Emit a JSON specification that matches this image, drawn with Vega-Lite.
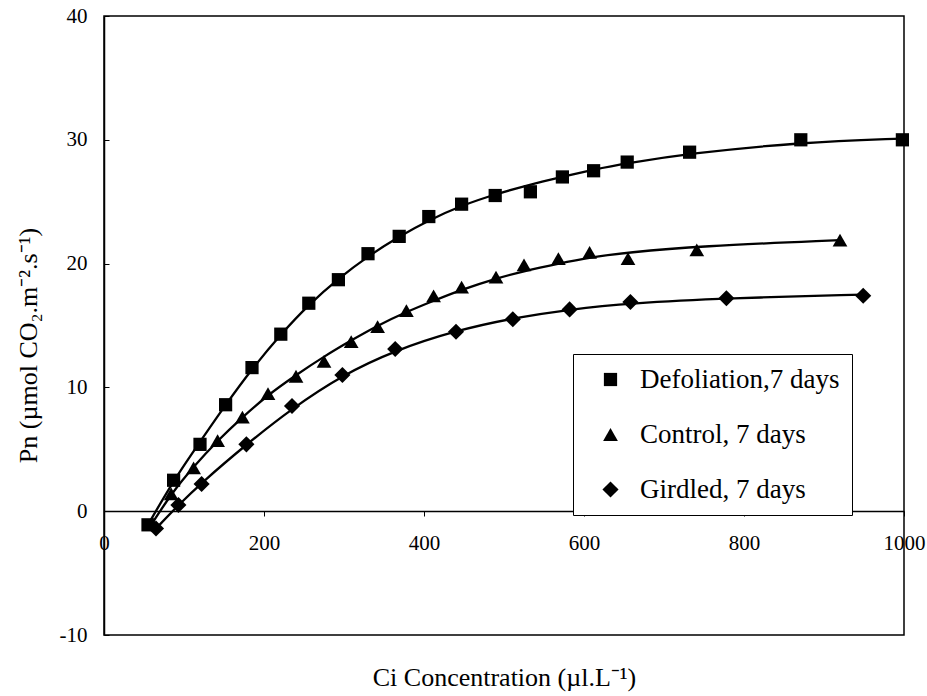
{
  "$schema": "https://vega.github.io/schema/vega-lite/v6.json",
  "width": 800,
  "height": 619,
  "autosize": "none",
  "padding": {"left": 104, "top": 16, "right": 23, "bottom": 61},
  "background": "white",
  "config": {
    "font": "Liberation Serif",
    "view": {"stroke": "black", "strokeWidth": 1.5},
    "axis": {
      "grid": false,
      "domainColor": "black",
      "domainWidth": 1.5,
      "tickColor": "black",
      "labelColor": "black",
      "titleColor": "black",
      "labelFont": "Liberation Serif",
      "titleFont": "Liberation Serif",
      "labelFontSize": 21,
      "titleFontSize": 26,
      "titleFontWeight": "normal"
    }
  },
  "datasets": {
    "points": [
      {"treatment": "Defoliation,7 days", "ci": 55, "pn": -1.1},
      {"treatment": "Defoliation,7 days", "ci": 87, "pn": 2.5},
      {"treatment": "Defoliation,7 days", "ci": 120, "pn": 5.4},
      {"treatment": "Defoliation,7 days", "ci": 152, "pn": 8.6},
      {"treatment": "Defoliation,7 days", "ci": 185, "pn": 11.6},
      {"treatment": "Defoliation,7 days", "ci": 221, "pn": 14.3},
      {"treatment": "Defoliation,7 days", "ci": 256, "pn": 16.8},
      {"treatment": "Defoliation,7 days", "ci": 293, "pn": 18.7},
      {"treatment": "Defoliation,7 days", "ci": 330, "pn": 20.8},
      {"treatment": "Defoliation,7 days", "ci": 369, "pn": 22.2},
      {"treatment": "Defoliation,7 days", "ci": 406, "pn": 23.8},
      {"treatment": "Defoliation,7 days", "ci": 447, "pn": 24.8},
      {"treatment": "Defoliation,7 days", "ci": 489, "pn": 25.5},
      {"treatment": "Defoliation,7 days", "ci": 533, "pn": 25.8},
      {"treatment": "Defoliation,7 days", "ci": 573, "pn": 27.0},
      {"treatment": "Defoliation,7 days", "ci": 612, "pn": 27.5},
      {"treatment": "Defoliation,7 days", "ci": 654, "pn": 28.2},
      {"treatment": "Defoliation,7 days", "ci": 732, "pn": 29.0},
      {"treatment": "Defoliation,7 days", "ci": 871, "pn": 30.0},
      {"treatment": "Defoliation,7 days", "ci": 998, "pn": 30.0},
      {"treatment": "Control, 7 days", "ci": 60, "pn": -1.0},
      {"treatment": "Control, 7 days", "ci": 84, "pn": 1.4},
      {"treatment": "Control, 7 days", "ci": 112, "pn": 3.5},
      {"treatment": "Control, 7 days", "ci": 142, "pn": 5.7},
      {"treatment": "Control, 7 days", "ci": 173, "pn": 7.6},
      {"treatment": "Control, 7 days", "ci": 205, "pn": 9.5},
      {"treatment": "Control, 7 days", "ci": 240, "pn": 10.9},
      {"treatment": "Control, 7 days", "ci": 275, "pn": 12.1},
      {"treatment": "Control, 7 days", "ci": 309, "pn": 13.7},
      {"treatment": "Control, 7 days", "ci": 342, "pn": 14.9},
      {"treatment": "Control, 7 days", "ci": 378, "pn": 16.2},
      {"treatment": "Control, 7 days", "ci": 412, "pn": 17.4},
      {"treatment": "Control, 7 days", "ci": 447, "pn": 18.1},
      {"treatment": "Control, 7 days", "ci": 490, "pn": 18.9},
      {"treatment": "Control, 7 days", "ci": 525, "pn": 19.9},
      {"treatment": "Control, 7 days", "ci": 568, "pn": 20.4},
      {"treatment": "Control, 7 days", "ci": 607, "pn": 20.9},
      {"treatment": "Control, 7 days", "ci": 655, "pn": 20.4},
      {"treatment": "Control, 7 days", "ci": 741, "pn": 21.1},
      {"treatment": "Control, 7 days", "ci": 920, "pn": 21.9},
      {"treatment": "Girdled, 7 days", "ci": 65, "pn": -1.4},
      {"treatment": "Girdled, 7 days", "ci": 93, "pn": 0.5},
      {"treatment": "Girdled, 7 days", "ci": 122, "pn": 2.2},
      {"treatment": "Girdled, 7 days", "ci": 178, "pn": 5.4},
      {"treatment": "Girdled, 7 days", "ci": 235, "pn": 8.5},
      {"treatment": "Girdled, 7 days", "ci": 298, "pn": 11.0},
      {"treatment": "Girdled, 7 days", "ci": 364, "pn": 13.1},
      {"treatment": "Girdled, 7 days", "ci": 440, "pn": 14.5},
      {"treatment": "Girdled, 7 days", "ci": 511, "pn": 15.5},
      {"treatment": "Girdled, 7 days", "ci": 582, "pn": 16.3},
      {"treatment": "Girdled, 7 days", "ci": 658, "pn": 16.9},
      {"treatment": "Girdled, 7 days", "ci": 778, "pn": 17.2},
      {"treatment": "Girdled, 7 days", "ci": 949, "pn": 17.4}
    ],
    "curves": [
      {"treatment": "Defoliation,7 days", "ci": 55, "pn": -1.1},
      {"treatment": "Defoliation,7 days", "ci": 87, "pn": 2.5},
      {"treatment": "Defoliation,7 days", "ci": 120, "pn": 5.6},
      {"treatment": "Defoliation,7 days", "ci": 152, "pn": 8.6},
      {"treatment": "Defoliation,7 days", "ci": 185, "pn": 11.5},
      {"treatment": "Defoliation,7 days", "ci": 221, "pn": 14.3},
      {"treatment": "Defoliation,7 days", "ci": 256, "pn": 16.7},
      {"treatment": "Defoliation,7 days", "ci": 293, "pn": 18.8},
      {"treatment": "Defoliation,7 days", "ci": 330, "pn": 20.6},
      {"treatment": "Defoliation,7 days", "ci": 369, "pn": 22.2},
      {"treatment": "Defoliation,7 days", "ci": 406, "pn": 23.5},
      {"treatment": "Defoliation,7 days", "ci": 447, "pn": 24.7},
      {"treatment": "Defoliation,7 days", "ci": 489, "pn": 25.6},
      {"treatment": "Defoliation,7 days", "ci": 533, "pn": 26.4},
      {"treatment": "Defoliation,7 days", "ci": 573, "pn": 27.0},
      {"treatment": "Defoliation,7 days", "ci": 612, "pn": 27.6},
      {"treatment": "Defoliation,7 days", "ci": 654, "pn": 28.1},
      {"treatment": "Defoliation,7 days", "ci": 732, "pn": 28.9},
      {"treatment": "Defoliation,7 days", "ci": 871, "pn": 29.8},
      {"treatment": "Defoliation,7 days", "ci": 998, "pn": 30.1},
      {"treatment": "Control, 7 days", "ci": 60, "pn": -1.0},
      {"treatment": "Control, 7 days", "ci": 84, "pn": 1.4},
      {"treatment": "Control, 7 days", "ci": 112, "pn": 3.6},
      {"treatment": "Control, 7 days", "ci": 142, "pn": 5.7},
      {"treatment": "Control, 7 days", "ci": 173, "pn": 7.6},
      {"treatment": "Control, 7 days", "ci": 205, "pn": 9.4},
      {"treatment": "Control, 7 days", "ci": 240, "pn": 11.0},
      {"treatment": "Control, 7 days", "ci": 275, "pn": 12.5},
      {"treatment": "Control, 7 days", "ci": 309, "pn": 13.8},
      {"treatment": "Control, 7 days", "ci": 342, "pn": 15.0},
      {"treatment": "Control, 7 days", "ci": 378, "pn": 16.1},
      {"treatment": "Control, 7 days", "ci": 412, "pn": 17.0},
      {"treatment": "Control, 7 days", "ci": 447, "pn": 17.9},
      {"treatment": "Control, 7 days", "ci": 490, "pn": 18.8},
      {"treatment": "Control, 7 days", "ci": 525, "pn": 19.4},
      {"treatment": "Control, 7 days", "ci": 568, "pn": 20.0},
      {"treatment": "Control, 7 days", "ci": 607, "pn": 20.5},
      {"treatment": "Control, 7 days", "ci": 655, "pn": 20.9},
      {"treatment": "Control, 7 days", "ci": 741, "pn": 21.4},
      {"treatment": "Control, 7 days", "ci": 920, "pn": 21.9},
      {"treatment": "Girdled, 7 days", "ci": 65, "pn": -1.4},
      {"treatment": "Girdled, 7 days", "ci": 93, "pn": 0.5},
      {"treatment": "Girdled, 7 days", "ci": 122, "pn": 2.3},
      {"treatment": "Girdled, 7 days", "ci": 178, "pn": 5.4},
      {"treatment": "Girdled, 7 days", "ci": 235, "pn": 8.3},
      {"treatment": "Girdled, 7 days", "ci": 298, "pn": 11.0},
      {"treatment": "Girdled, 7 days", "ci": 364, "pn": 13.0},
      {"treatment": "Girdled, 7 days", "ci": 440, "pn": 14.6},
      {"treatment": "Girdled, 7 days", "ci": 511, "pn": 15.6},
      {"treatment": "Girdled, 7 days", "ci": 582, "pn": 16.3},
      {"treatment": "Girdled, 7 days", "ci": 658, "pn": 16.8},
      {"treatment": "Girdled, 7 days", "ci": 778, "pn": 17.2},
      {"treatment": "Girdled, 7 days", "ci": 949, "pn": 17.5}
    ]
  },
  "encoding": {
    "x": {
      "field": "ci",
      "type": "quantitative",
      "scale": {"domain": [0, 1000], "nice": false},
      "axis": {
        "title": "Ci Concentration (µl.L⁻¹)",
        "values": [0, 200, 400, 600, 800, 1000],
        "labelExpr": "'' + datum.value",
        "offset": -124,
        "labelFlush": false,
        "labelOverlap": false,
        "tickSize": 5,
        "labelPadding": 16,
        "titleY": 166,
        "titleBaseline": "middle"
      }
    },
    "y": {
      "field": "pn",
      "type": "quantitative",
      "scale": {"domain": [-10, 40], "nice": false, "zero": false},
      "axis": {
        "title": "Pn (µmol CO₂.m⁻².s⁻¹)",
        "values": [-10, 0, 10, 20, 30, 40],
        "labelExpr": "'' + datum.value",
        "tickSize": -5,
        "labelPadding": 22,
        "labelOverlap": false,
        "titleX": -76,
        "titleY": 329,
        "titleAlign": "center",
        "titleBaseline": "middle"
      }
    }
  },
  "layer": [
    {
      "data": {"name": "curves"},
      "mark": {"type": "line", "interpolate": "basis", "color": "black", "strokeWidth": 2.3},
      "encoding": {"detail": {"field": "treatment"}}
    },
    {
      "data": {"name": "points"},
      "mark": {"type": "point", "filled": true, "color": "black", "opacity": 1},
      "encoding": {
        "shape": {
          "field": "treatment",
          "type": "nominal",
          "scale": {
            "domain": ["Defoliation,7 days", "Control, 7 days", "Girdled, 7 days"],
            "range": ["square", "triangle-up", "diamond"]
          },
          "legend": {
            "title": null,
            "orient": "none",
            "legendX": 469,
            "legendY": 338,
            "strokeColor": "black",
            "fillColor": "white",
            "padding": 12,
            "labelFont": "Liberation Serif",
            "labelFontSize": 27,
            "labelColor": "black",
            "labelLimit": 400,
            "symbolOffset": 12,
            "labelOffset": 16,
            "rowPadding": 27,
            "symbolFillColor": "black",
            "symbolStrokeColor": "black",
            "symbolOpacity": 1
          }
        },
        "size": {
          "field": "treatment",
          "type": "nominal",
          "scale": {
            "domain": ["Defoliation,7 days", "Control, 7 days", "Girdled, 7 days"],
            "range": [175, 260, 190]
          },
          "legend": {
            "title": null,
            "orient": "none",
            "legendX": 469,
            "legendY": 338,
            "strokeColor": "black",
            "fillColor": "white",
            "padding": 12,
            "labelFont": "Liberation Serif",
            "labelFontSize": 27,
            "labelColor": "black",
            "labelLimit": 400,
            "symbolOffset": 12,
            "labelOffset": 16,
            "rowPadding": 27,
            "symbolFillColor": "black",
            "symbolStrokeColor": "black",
            "symbolOpacity": 1
          }
        }
      }
    }
  ]
}
